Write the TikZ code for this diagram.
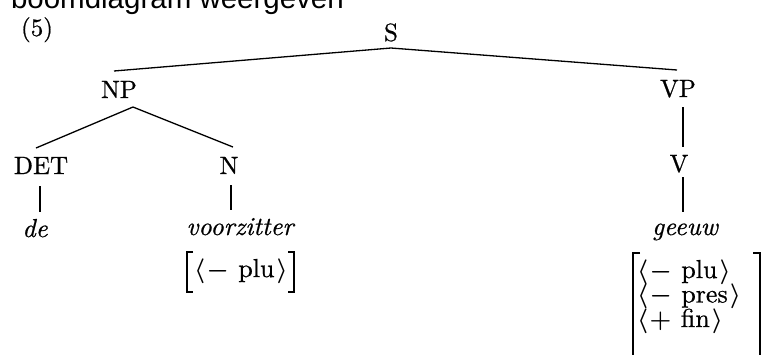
\documentclass[tikz,border=0pt]{standalone}
\usepackage{fontspec}
\setmainfont{lmroman10-regular}[Extension=.otf,ItalicFont=lmroman10-italic,BoldFont=lmroman10-bold,FakeBold=0.7]
\newfontfamily\arialfont{Liberation Sans}
\newcommand\featx[2]{{\boldmath$\langle\mkern1mu{#1}$}\kern0.36em#2\kern0.08em{\boldmath$\rangle$}}
\begin{document}
\begin{tikzpicture}[x=1pt,y=-1pt,
  every node/.style={inner sep=0pt,outer sep=0pt,anchor=base},
  cat/.style={font=\fontsize{25}{28}\selectfont},
  word/.style={font=\fontsize{26}{29}\selectfont\itshape},
  feat/.style={font=\fontsize{26}{29}\selectfont,anchor=base west},
  branch/.style={line width=1.3pt},
  brk/.style={line width=1.4pt}]
\useasboundingbox (0,0) rectangle (764,354);
\clip (0,0) rectangle (764,354);
\node[anchor=base west,font=\arialfont\fontsize{29.5}{32}\selectfont] (cap) at (11,8) {boomdiagram weergeven};
\node[cat] (num) at (37,36) {(5)};
\node[cat] (S) at (391,41) {S};
\node[cat] (NP) at (119,98) {NP};
\node[cat] (VP) at (678,97) {VP};
\node[cat] (DET) at (41,174) {DET};
\node[cat] (N) at (229,174) {N};
\node[cat] (V) at (679,172) {V};
\node[word] (de) at (35,237) {de};
\node[word] (vz) at (240,235) {voorzitter};
\node[word] (ge) at (685,235) {geeuw};
\node[feat] (f1) at (194,277) {\featx{-}{plu}};
\node[feat] (f2) at (637,278) {\featx{-}{plu}};
\node[feat] (f3) at (637,302.5) {\featx{-}{pres}};
\node[feat] (f4) at (637,327) {\featx{+}{fin}};
% branches
\coordinate (Sb) at (391,48);
\coordinate (NPt) at (114,71);
\coordinate (VPt) at (677,70);
\draw[branch] (NPt) -- (Sb) -- (VPt);
\coordinate (NPb) at (133,107);
\coordinate (DETt) at (36,148);
\coordinate (Nt) at (233,147);
\draw[branch] (DETt) -- (NPb) -- (Nt);
\draw[branch] (683,107) coordinate (VPb) -- (683,147) coordinate (Vt);
\draw[branch] (683,177) coordinate (Vb) -- (683,212) coordinate (get);
\draw[branch] (40,186) coordinate (DETb) -- (40,212) coordinate (det);
\draw[branch] (231,185) coordinate (Nb) -- (231,210) coordinate (vzt);
% brackets
\draw[brk] (193,252) -- (187,252) -- (187,292) -- (193,292);
\draw[brk] (288,252) -- (294,252) -- (294,292) -- (288,292);
\draw[brk] (640,253) -- (633,253) -- (633,360);
\draw[brk] (753,253) -- (760,253) -- (760,360);
\end{tikzpicture}
\end{document}
